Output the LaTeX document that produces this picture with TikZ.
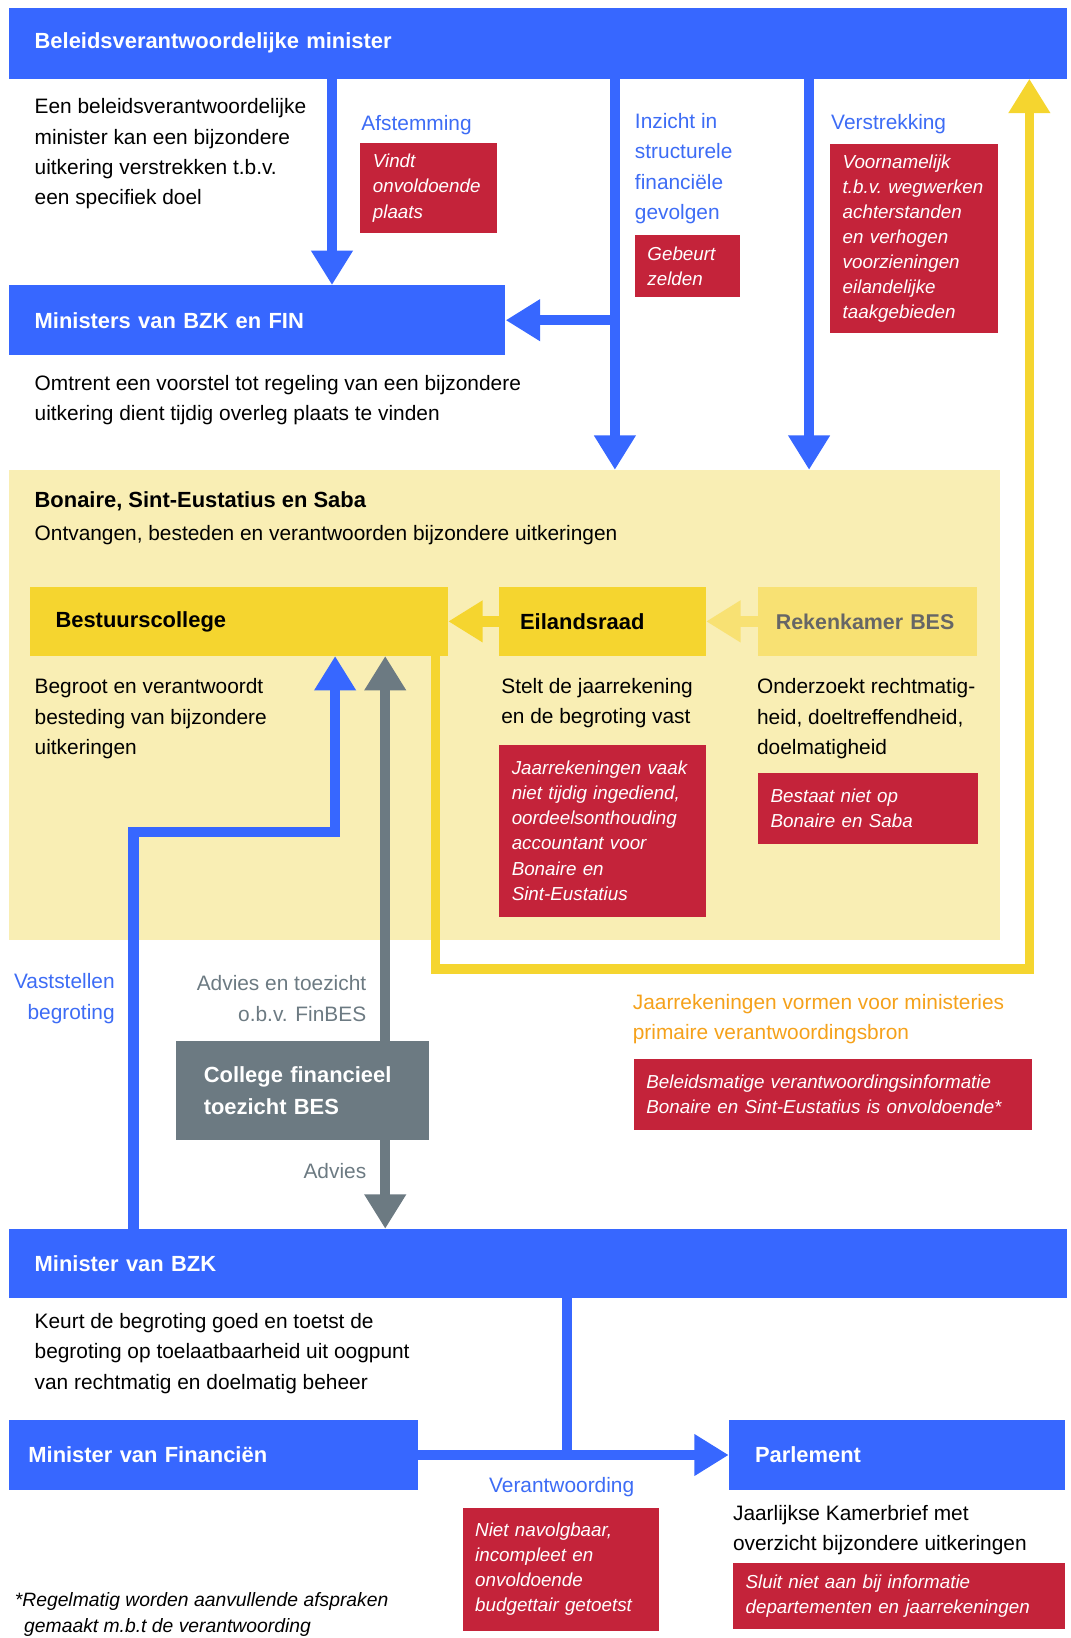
\documentclass[tikz,border=0pt]{standalone}
\usepackage{fontspec}
\setmainfont{Liberation Sans}
\usetikzlibrary{arrows.meta}

\definecolor{blauw}{HTML}{3767FF}
\definecolor{rood}{HTML}{C4233A}
\definecolor{geel}{HTML}{F5D52F}
\definecolor{lichtgeel}{HTML}{F9EEB4}
\definecolor{bleekgeel}{HTML}{F8E173}
\definecolor{grijs}{HTML}{6C7A82}
\definecolor{oranje}{HTML}{F5A11A}
\definecolor{tekstblauw}{HTML}{3D6CF5}

\newcommand\tekstfont{\fontsize{20}{29}\selectfont}
\newcommand\titelfont{\bfseries\fontsize{21}{30}\selectfont}
\newcommand\noottekst{\itshape\fontsize{18}{24}\selectfont\hyphenpenalty=10000}

\begin{document}
\begin{tikzpicture}[x=1pt, y=-1pt,
    balk/.style={fill=blauw, text=white, font=\titelfont, anchor=north west, align=left, inner ysep=0pt, inner xsep=25pt},
    geelvak/.style={balk, fill=geel, text=black},
    roodvak/.style={fill=rood, text=white, font=\noottekst, anchor=north west, align=left, inner ysep=0pt, inner xsep=12pt},
    tekst/.style={font=\tekstfont, anchor=west, align=left, inner sep=0pt, yshift=-2.5pt},
    kop/.style={tekst, text=tekstblauw},
    pijl/.style={line width=10pt, -{Triangle[width=38pt,length=33pt]}}
]
    \useasboundingbox (0,0) rectangle (1025,1569);

    \def\noot#1#2#3#4#5{%
        \pgfmathsetmacro\tb{#3-24}
        \node[roodvak, text width=\tb pt, minimum height=#4pt] (#1) at (#2) {#5};
    }

    % kolommen voor de verbindingen
    \coordinate (ka) at (318,0);
    \coordinate (kb) at (589,0);
    \coordinate (kc) at (775,0);
    \coordinate (kd) at (986,928);
    \coordinate (ke) at (417,0);
    \coordinate (kv) at (128,797);
    \coordinate (kw) at (321,797);
    \coordinate (kg) at (369,0);
    \coordinate (kh) at (543,0);

    % bovenste deel
    \node[balk, text width=964pt, minimum height=68pt] (beleid) at (8,7) {Beleidsverantwoordelijke minister};
    \node[tekst] (beleidtxt) at (33,145) {Een beleidsverantwoordelijke\\minister kan een bijzondere\\uitkering verstrekken t.b.v.\\een specifiek doel};
    \node[kop] (afst) at (346,117) {Afstemming};
    \noot{afstrood}{345,137}{131}{86}{Vindt\\onvoldoende\\plaats}
    \node[kop] (inzicht) at (608,159) {Inzicht in\\structurele\\financiële\\gevolgen};
    \noot{inzichtrood}{608,225}{101}{59}{Gebeurt\\zelden}
    \node[kop] (verstr) at (796,116) {Verstrekking};
    \noot{verstrrood}{795,138}{161}{181}{Voornamelijk\\t.b.v.~wegwerken\\achterstanden\\en~verhogen\\voorzieningen\\eilandelijke\\taakgebieden}

    \node[balk, text width=426pt, minimum height=67pt] (bzkfin) at (8,273) {Ministers van BZK en FIN};
    \node[tekst] (bzkfintxt) at (33,381) {Omtrent een voorstel tot regeling van een bijzondere\\uitkering dient tijdig overleg plaats te vinden};

    % eilanden
    \node[fill=lichtgeel, anchor=north west, minimum width=950pt, minimum height=450pt, inner sep=0pt] (bes) at (8,450) {};
    \node[tekst, font=\titelfont] (bestitel) at (33,478) {Bonaire, Sint-Eustatius en Saba};
    \node[tekst] (besonder) at (33,510) {Ontvangen, besteden en verantwoorden bijzondere uitkeringen};

    \node[geelvak, inner xsep=24pt, text width=352pt, minimum height=66pt] (bestuur) at (29,562) {Bestuurscollege};
    \node[geelvak, inner xsep=20pt, text width=158pt, minimum height=66pt] (eiland) at (478,562) {Eilandsraad};
    \node[geelvak, fill=bleekgeel, text=black!60, inner xsep=17pt, text width=176pt, minimum height=66pt,
        font=\bfseries\fontsize{20.5}{30}\selectfont] (rekenk) at (726,562) {Rekenkamer BES};

    \node[tekst] (bestuurtxt) at (33,686) {Begroot en verantwoordt\\besteding van bijzondere\\uitkeringen};
    \node[tekst] (eilandtxt) at (480,671) {Stelt de jaarrekening\\en de begroting vast};
    \noot{eilandrood}{478,713}{198}{165}{Jaarrekeningen vaak\\niet tijdig ingediend,\\oordeelsonthouding\\accountant voor\\Bonaire en\\Sint-Eustatius}
    \node[tekst] (rekenktxt) at (725,686) {Onderzoekt rechtmatig-\\heid, doeltreffendheid,\\doelmatigheid};
    \noot{rekenkrood}{726,740}{211}{68}{Bestaat niet op\\Bonaire en Saba}

    % toezicht
    \node[kop, anchor=east, align=right] (vaststel) at (110,954) {Vaststellen\\begroting};
    \node[tekst, anchor=east, align=right, text=grijs] (advtoez) at (351,954) {Advies en toezicht\\o.b.v. FinBES};
    \node[balk, fill=grijs, inner xsep=27pt, text width=189pt, minimum height=95pt] (cft) at (168,997) {College financieel\\toezicht BES};
    \node[tekst, anchor=east, text=grijs] (advies) at (351,1119) {Advies};

    \node[tekst, text=oranje] (jaarrek) at (606,974) {Jaarrekeningen vormen voor ministeries\\primaire verantwoordingsbron};
    \noot{jaarrekrood}{607,1014}{381}{68}{Beleidsmatige verantwoordingsinformatie\\Bonaire en Sint-Eustatius is onvoldoende*}

    % onderste deel
    \node[balk, text width=964pt, minimum height=66pt] (bzk) at (8,1177) {Minister van BZK};
    \node[tekst] (bzktxt) at (33,1294) {Keurt de begroting goed en toetst de\\begroting op toelaatbaarheid uit oogpunt\\van rechtmatig en doelmatig beheer};
    \node[balk, inner xsep=19pt, text width=354pt, minimum height=67pt] (fin) at (8,1360) {Minister van Financiën};
    \node[balk, text width=272pt, minimum height=67pt] (parl) at (698,1360) {Parlement};
    \node[kop, anchor=center] (verantw) at (538,1422) {Verantwoording};
    \noot{verantwrood}{443,1444}{188}{118}{Niet navolgbaar,\\incompleet en\\onvoldoende\\budgettair getoetst}
    \node[tekst] (parltxt) at (702,1463) {Jaarlijkse Kamerbrief met\\overzicht bijzondere uitkeringen};
    \noot{parlrood}{702,1497}{318}{63}{Sluit niet aan bij informatie\\departementen en jaarrekeningen}
    \node[tekst, font=\itshape\fontsize{18.5}{24}\selectfont] (voetnoot) at (14,1544) {*Regelmatig worden aanvullende afspraken\\\hspace*{9pt}gemaakt m.b.t de verantwoording};

    % verbindingen
    \draw[pijl, blauw] (beleid.south -| ka) -- (bzkfin.north -| ka);
    \draw[pijl, blauw] (beleid.south -| kb) -- (bes.north -| kb);
    \draw[pijl, blauw] (kb |- bzkfin.east) -- (bzkfin.east);
    \draw[pijl, blauw] (beleid.south -| kc) -- (bes.north -| kc);
    \draw[pijl, geel, line width=9pt] (bestuur.south -| ke) |- (kd) -- (beleid.south -| kd);
    \draw[pijl, geel] (eiland.west) -- (bestuur.east);
    \draw[pijl, bleekgeel] (rekenk.west) -- (eiland.east);
    \draw[pijl, blauw] (bzk.north -| kv) -- (kv) -- (kw) -- (bestuur.south -| kw);
    \draw[pijl, grijs] (cft.north -| kg) -- (bestuur.south -| kg);
    \draw[pijl, grijs] (cft.south -| kg) -- (bzk.north -| kg);
    \draw[blauw, line width=10pt] (bzk.south -| kh) -- (kh |- fin.east);
    \draw[pijl, blauw] (fin.east) -- (parl.west);
\end{tikzpicture}
\end{document}
